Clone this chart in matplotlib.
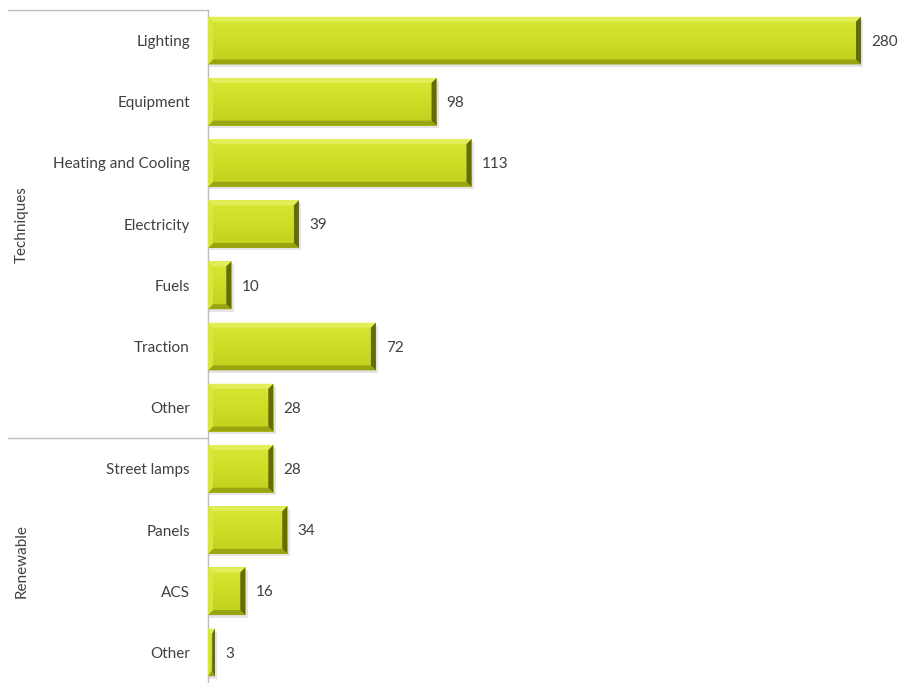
import matplotlib
matplotlib.use("Agg")
import numpy as np
import matplotlib.pyplot as plt
from matplotlib.patches import Polygon
from matplotlib.colors import LinearSegmentedColormap
from matplotlib.transforms import blended_transform_factory

categories = ["Lighting", "Equipment", "Heating and Cooling", "Electricity", "Fuels",
              "Traction", "Other", "Street lamps", "Panels", "ACS", "Other"]
values = [280, 98, 113, 39, 10, 72, 28, 28, 34, 16, 3]
groups = ["Techniques", "Renewable"]
group_sizes = [7, 4]

plt.rcParams['font.family'] = ['Lato', 'DejaVu Sans']
FS = 11
TXT = '#404040'
FACE = '#CCDE26'
TOPC = '#E2EE58'
LEFTC = '#D6E63C'
BOTC = '#98A410'
RIGHTC = '#666C04'
grad = LinearSegmentedColormap.from_list('g', ['#D6E834', '#CCDE26', '#BFD01E'])

W, H = 901, 683
fig = plt.figure(figsize=(W / 100, H / 100), dpi=100)
px_per_unit = (861 - 208) / 280.0
xmax = 288
ax_left = 208 / W
ax_w = xmax * px_per_unit / W
ax_top = 10 / H
ax = fig.add_axes([ax_left, 0, ax_w, 1 - ax_top])

n = len(categories)
ypos = list(range(n))
bh = 0.78
bars = ax.barh(ypos, values, height=bh, color=FACE, edgecolor='none', zorder=2)
ax.set_xlim(0, xmax)
ax.set_ylim(n - 0.5, -0.5)

row_px = (H - 10) / n
dx_full = 5 / px_per_unit
dy = 5 / row_px
gvals = np.linspace(0, 1, 64).reshape(-1, 1)
for rect, v in zip(bars, values):
    x0 = rect.get_x()
    y0 = rect.get_y()
    x1 = x0 + rect.get_width()
    y1 = y0 + rect.get_height()
    dx = min(dx_full, (x1 - x0) / 2.5)
    im = ax.imshow(gvals, cmap=grad, aspect='auto', extent=(x0, x1, y1, y0),
                   origin='upper', zorder=2.5, interpolation='bilinear')
    im.set_clip_path(rect)
    sh = Polygon([(x0 + 1 / px_per_unit, y0 + 3 / row_px), (x1 + 2.5 / px_per_unit, y0 + 3 / row_px),
                  (x1 + 2.5 / px_per_unit, y1 + 2.5 / row_px), (x0 + 1 / px_per_unit, y1 + 2.5 / row_px)],
                 closed=True, facecolor='#000000', alpha=0.10, edgecolor='none', zorder=1)
    ax.add_patch(sh)
    polys = [
        ([(x0, y0), (x1, y0), (x1 - dx, y0 + dy), (x0 + dx, y0 + dy)], TOPC),
        ([(x0, y1), (x1, y1), (x1 - dx, y1 - dy), (x0 + dx, y1 - dy)], BOTC),
        ([(x0, y0), (x0 + dx, y0 + dy), (x0 + dx, y1 - dy), (x0, y1)], LEFTC),
        ([(x1, y0), (x1 - dx, y0 + dy), (x1 - dx, y1 - dy), (x1, y1)], RIGHTC),
    ]
    for pts, c in polys:
        ax.add_patch(Polygon(pts, closed=True, facecolor=c, edgecolor='none', zorder=3))
    ax.text(x1 + 10 / px_per_unit, (y0 + y1) / 2 + 0.02, str(v), va='center', ha='left',
            fontsize=FS, color=TXT)

ax.set_xlim(0, xmax)
ax.set_ylim(n - 0.5, -0.5)
ax.set_yticks(ypos)
ax.set_yticklabels(categories, fontsize=FS, color=TXT)
ax.tick_params(axis='y', length=0, pad=13)
ax.set_xticks([])
for s in ['top', 'right', 'bottom']:
    ax.spines[s].set_visible(False)
ax.spines['left'].set_color('#BFBFBF')
ax.spines['left'].set_linewidth(1)

trans = blended_transform_factory(ax.transAxes, ax.transData)
xl = (8 - 208) / (xmax * px_per_unit)
xg = (22 - 208) / (xmax * px_per_unit)
start = 0
for g, sz in zip(groups, group_sizes):
    ax.plot([xl, 0], [start - 0.5, start - 0.5], transform=trans, color='#BFBFBF',
            lw=1, clip_on=False)
    ax.text(xg, start + (sz - 1) / 2, g, transform=trans, rotation=90, ha='center',
            va='center', fontsize=FS, color=TXT)
    start += sz

fig.savefig("out.png", dpi=100)
